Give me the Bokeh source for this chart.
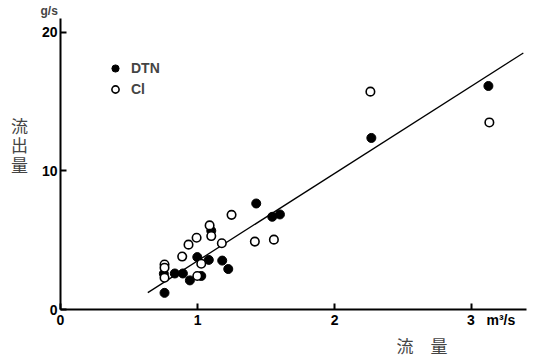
from bokeh.plotting import figure
from bokeh.models import Range1d, Legend, LegendItem, FixedTicker, Title
from bokeh.embed import file_html
from bokeh.resources import INLINE

# ---- data ----
dtn_x = [0.754, 0.759, 0.834, 0.893, 0.944, 1.027, 0.998, 1.082, 1.100, 1.180, 1.224, 1.428, 1.545, 1.601, 2.268, 3.122]
dtn_y = [2.58, 1.20, 2.60, 2.60, 2.10, 2.42, 3.78, 3.58, 5.68, 3.53, 2.92, 7.65, 6.69, 6.86, 12.38, 16.13]

cl_x = [0.759, 0.759, 0.759, 0.888, 0.934, 0.998, 0.993, 1.027, 1.088, 1.100, 1.177, 1.248, 1.418, 1.557, 2.261, 3.129]
cl_y = [3.25, 3.01, 2.29, 3.82, 4.68, 2.42, 5.18, 3.30, 6.07, 5.30, 4.78, 6.83, 4.90, 5.04, 15.72, 13.50]

fit_slope = 6.31
fit_intercept = -2.80
fit_x = [0.637, 3.377]
fit_y = [fit_slope * v + fit_intercept for v in fit_x]

x_ticks = [0, 1, 2, 3]
y_ticks = [0, 10, 20]
x_unit = "m³/s"
y_unit = "g/s"
x_title = "流　量"
y_title = "流出量"

FONT = "Liberation Sans"
JP = "Noto Sans CJK JP"
NB = "\u00a0"

p = figure(width=533, height=357, output_backend="svg", toolbar_location=None,
           x_range=Range1d(0, 3.40), y_range=Range1d(0, 21.0))
p.min_border_left = 60
p.min_border_right = 7
p.min_border_top = 18
p.min_border_bottom = 46
p.outline_line_color = None
p.grid.visible = False
p.background_fill_color = "white"
p.border_fill_color = "white"

for ax in (p.xaxis[0], p.yaxis[0]):
    ax.axis_line_width = 2
    ax.axis_line_color = "black"
    ax.major_tick_in = 6
    ax.major_tick_out = 0
    ax.major_tick_line_width = 2
    ax.minor_tick_line_color = None
    ax.major_label_text_font = FONT
    ax.major_label_text_font_style = "bold"
    ax.major_label_text_font_size = "14px"
    ax.major_label_text_color = "black"

p.xaxis[0].ticker = FixedTicker(ticks=x_ticks)
p.yaxis[0].ticker = FixedTicker(ticks=y_ticks)
p.xaxis[0].major_label_standoff = 2
p.yaxis[0].major_label_standoff = 3
# unit after the last x tick, padded so that the digit stays centred on its tick
p.xaxis[0].major_label_overrides = {x_ticks[-1]: NB * 10 + str(x_ticks[-1]) + NB * 3 + x_unit}

# vertical (stacked) y title; two blank-ish lines lift the block to the reference position
p.yaxis[0].axis_label = "\n".join(list(y_title)) + "\n" + NB + "\n" + NB
p.yaxis[0].axis_label_orientation = "horizontal"
p.yaxis[0].axis_label_text_font = JP
p.yaxis[0].axis_label_text_font_size = "17px"
p.yaxis[0].axis_label_text_font_style = "normal"
p.yaxis[0].axis_label_text_line_height = 0.78
p.yaxis[0].axis_label_standoff = 11

line = p.line(fit_x, fit_y, line_color="black", line_width=1.3)
r_dtn = p.scatter(dtn_x, dtn_y, size=9, marker="circle", fill_color="black", line_color="black")
r_cl = p.scatter(cl_x, cl_y, size=8.5, marker="circle", fill_color="white", line_color="black", line_width=1.6)

legend = Legend(items=[LegendItem(label="DTN", renderers=[r_dtn]),
                       LegendItem(label="Cl", renderers=[r_cl])],
                location=(45, 211), orientation="vertical")
legend.border_line_color = None
legend.background_fill_alpha = 0
legend.padding = 0
legend.margin = 0
legend.spacing = 3
legend.glyph_width = 20
legend.glyph_height = 18
legend.label_height = 18
legend.label_standoff = 6
legend.label_text_font = FONT
legend.label_text_font_style = "bold"
legend.label_text_font_size = "14px"
p.add_layout(legend)

t_unit = Title(text=y_unit, align="left", offset=-20, standoff=2,
               text_font=FONT, text_font_style="bold", text_font_size="12px")
p.add_layout(t_unit, "above")

t_x = Title(text=x_title, align="left", offset=336, standoff=0,
            text_font=JP, text_font_style="normal", text_font_size="17px",
            text_line_height=0.75)
p.add_layout(t_x, "below")

open("out.html", "w").write(file_html(p, INLINE))
